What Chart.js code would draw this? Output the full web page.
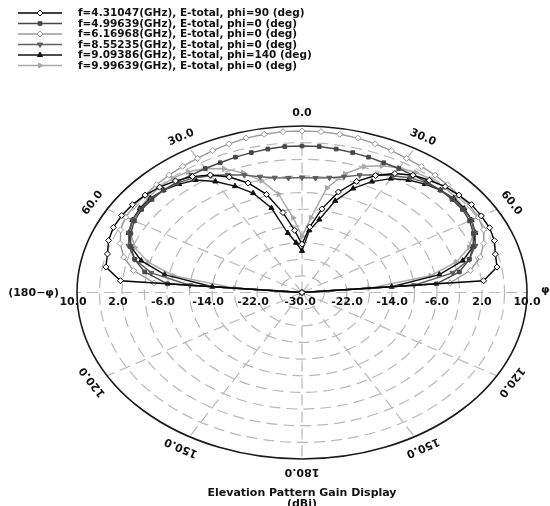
<!DOCTYPE html>
<html><head><meta charset="utf-8">
<script src="https://cdn.jsdelivr.net/npm/chart.js@4/dist/chart.umd.min.js"></script>
<style>html,body{margin:0;padding:0;background:#fff}#wrap{width:550px;height:506px}</style>
</head><body><div id="wrap"><canvas id="c" width="550" height="506"></canvas></div>
<script>
// ---- data (theta in degrees, gain in dBi) ----
const angles = [-90,-85,-80,-75,-70,-65,-60,-55,-50,-45,-40,-35,-30,-25,-20,-15,-10,-5,0,5,10,15,20,25,30,35,40,45,50,55,60,65,70,75,80,85,90];
const gain431 = [-30,2.4,5.4,5.8,6.6,7.0,7.0,6.8,6.4,5.8,5.0,4.0,2.6,0.6,-2.0,-5.6,-10.5,-15.0,-18.4,-14.2,-9.6,-5.0,-1.6,1.0,3.0,4.4,5.2,6.0,6.4,6.8,6.8,6.8,6.4,5.6,5.2,2.4,-30];
const gain499 = [-30,-6.0,-1.6,0.8,2.4,3.6,4.4,4.8,4.8,4.8,4.6,4.4,4.4,4.4,4.6,4.8,5.0,5.2,5.2,5.2,5.0,4.8,4.6,4.4,4.4,4.4,4.6,4.8,4.8,4.8,4.4,3.6,2.4,0.8,-1.6,-6.0,-30];
const gain617 = [-30,-3.6,0.4,2.8,4.4,5.6,6.2,6.4,6.4,6.6,6.8,7.0,7.2,7.6,8.0,8.4,8.6,8.8,8.8,8.8,8.6,8.4,8.0,7.6,7.2,7.0,6.8,6.6,6.4,6.4,6.2,5.6,4.4,2.8,0.4,-3.6,-30];
const gain855 = [-30,-10.0,-2.8,0.8,2.8,4.0,4.8,5.0,5.0,4.8,4.4,3.6,2.4,1.2,0.0,-1.2,-2.0,-2.4,-2.4,-2.4,-2.0,-1.2,0.0,1.2,2.4,3.6,4.4,4.8,5.0,5.0,4.8,4.0,2.8,0.8,-2.8,-10.0,-30];
const gain909 = [-30,-14.0,-5.2,-0.4,2.4,4.0,4.8,5.2,5.2,4.8,4.0,3.0,0.8,-1.8,-4.6,-9.0,-15.5,-18.0,-20.0,-15.0,-12.2,-7.2,-3.4,-0.6,1.6,3.0,4.0,4.8,5.2,5.2,4.8,4.0,2.4,-0.4,-5.2,-14.0,-30];
const gain999 = [-30,-18.0,-6.8,-1.6,1.6,3.6,4.8,5.2,5.6,5.8,5.8,5.4,4.4,2.8,0.6,-2.2,-6.0,-12.0,-16.5,-12.0,-4.5,-0.5,2.2,3.6,4.6,5.2,5.6,5.8,5.6,5.2,4.8,3.6,1.6,-1.6,-6.8,-18.0,-30];
const seriesNames = [
  'f=4.31047(GHz), E-total, phi=90 (deg)',
  'f=4.99639(GHz), E-total, phi=0 (deg)',
  'f=6.16968(GHz), E-total, phi=0 (deg)',
  'f=8.55235(GHz), E-total, phi=0 (deg)',
  'f=9.09386(GHz), E-total, phi=140 (deg)',
  'f=9.99639(GHz), E-total, phi=0 (deg)'
];
const gainMin = -30, gainMax = 10;
const ringValues = [-26,-22,-18,-14,-10,-6,-2,2,6];
const radialTickValues = [10,2,-6,-14,-22,-30];
const radialTickLabels = ['10.0','2.0','-6.0','-14.0','-22.0','-30.0'];
const spokeAngles = [0,30,60,90,120,150,180,210,240,270,300,330];
const angleTickValues = [0,30,60,120,150,180,-30,-60,-120,-150];
const angleTickLabels = ['0.0','30.0','60.0','120.0','150.0','180.0','30.0','60.0','120.0','150.0'];
const titleText = 'Elevation Pattern Gain Display';
const unitText = '(dBi)';
const leftAxisText = '(180\u2212\u03c6)';
const rightAxisText = '\u03c6';

// ---- helpers ----
function norm(g){ return (Math.max(g, gainMin) - gainMin) / (gainMax - gainMin); }
function toPoints(gains){
  return angles.map((a, i) => {
    const r = norm(gains[i]), t = a * Math.PI / 180;
    return {x: r * Math.sin(t), y: r * Math.cos(t)};
  });
}
const styles = [
  {c:'#000000', ps:'rectRot', rot:0, rad:3, bg:'#ffffff'},
  {c:'#474747', ps:'rect', rot:0, rad:2.6, bg:'#474747'},
  {c:'#9a9a9a', ps:'rectRot', rot:0, rad:3, bg:'#ffffff'},
  {c:'#5e5e5e', ps:'triangle', rot:180, rad:3, bg:'#5e5e5e'},
  {c:'#111111', ps:'triangle', rot:0, rad:3, bg:'#111111'},
  {c:'#a8a8a8', ps:'triangle', rot:90, rad:3, bg:'#a8a8a8'}
];
const allGains = [gain431, gain499, gain617, gain855, gain909, gain999];
const datasets = allGains.map((g, i) => ({
  label: seriesNames[i],
  data: toPoints(g),
  showLine: true,
  borderColor: styles[i].c,
  borderWidth: 1.4,
  pointStyle: styles[i].ps,
  pointRotation: styles[i].rot,
  pointRadius: styles[i].rad,
  pointBorderWidth: 1,
  pointBorderColor: styles[i].c,
  pointBackgroundColor: styles[i].bg,
  tension: 0,
  clip: false
}));

const FONT = 'bold 11px "DejaVu Sans", Arial, sans-serif';

const polarGrid = {
  id: 'polarGrid',
  beforeDatasetsDraw(chart){
    const ctx = chart.ctx, xs = chart.scales.x, ys = chart.scales.y;
    const cx = xs.getPixelForValue(0), cy = ys.getPixelForValue(0);
    const rx = xs.getPixelForValue(1) - cx, ry = cy - ys.getPixelForValue(1);
    ctx.save();
    ctx.strokeStyle = '#b8b8b8'; ctx.lineWidth = 1.2; ctx.setLineDash([11,6]);
    ringValues.forEach(g => {
      const r = norm(g);
      ctx.beginPath(); ctx.ellipse(cx, cy, rx*r, ry*r, 0, 0, Math.PI*2); ctx.stroke();
    });
    spokeAngles.forEach(a => {
      const t = a*Math.PI/180;
      ctx.beginPath(); ctx.moveTo(cx, cy);
      ctx.lineTo(cx + rx*Math.sin(t), cy - ry*Math.cos(t)); ctx.stroke();
    });
    ctx.setLineDash([]);
    ctx.strokeStyle = '#1a1a1a'; ctx.lineWidth = 1.6;
    ctx.beginPath(); ctx.ellipse(cx, cy, rx, ry, 0, 0, Math.PI*2); ctx.stroke();
    ctx.restore();
  },
  afterDraw(chart){
    const ctx = chart.ctx, xs = chart.scales.x, ys = chart.scales.y;
    const cx = xs.getPixelForValue(0), cy = ys.getPixelForValue(0);
    const rx = xs.getPixelForValue(1) - cx, ry = cy - ys.getPixelForValue(1);
    ctx.save();
    ctx.fillStyle = '#111'; ctx.font = FONT;
    ctx.textAlign = 'center'; ctx.textBaseline = 'middle';
    // angle labels
    angleTickValues.forEach((a, i) => {
      const t = a*Math.PI/180, k = 1.075;
      const px = cx + k*rx*Math.sin(t), py = cy - k*ry*Math.cos(t);
      const rot = Math.atan2(ry*Math.sin(t), rx*Math.cos(t));
      ctx.save(); ctx.translate(px, py); ctx.rotate(rot);
      ctx.fillText(angleTickLabels[i], 0, 0); ctx.restore();
    });
    // radial tick labels along the horizontal axis
    const ly = cy + 10;
    radialTickValues.forEach((v, i) => {
      const r = norm(v);
      ctx.fillText(radialTickLabels[i], cx - rx*r - (r > 0 ? 4 : 2), ly);
      if (r > 0) ctx.fillText(radialTickLabels[i], cx + rx*r, ly);
    });
    ctx.textAlign = 'right';
    ctx.fillText(leftAxisText, cx - rx - 18, cy + 1);
    ctx.textAlign = 'left';
    ctx.fillText(rightAxisText, cx + rx + 14, cy - 2);
    // title
    ctx.textAlign = 'center';
    ctx.fillText(titleText, cx, cy + ry + 34);
    ctx.fillText(unitText, cx, cy + ry + 45);
    // legend
    ctx.textAlign = 'left';
    ctx.font = 'bold 10.5px "DejaVu Sans", Arial, sans-serif';
    chart.data.datasets.forEach((ds, i) => {
      const y = 13 + i*10.5;
      ctx.strokeStyle = ds.borderColor; ctx.lineWidth = 1.4;
      ctx.beginPath(); ctx.moveTo(18, y); ctx.lineTo(62, y); ctx.stroke();
      ctx.fillStyle = ds.pointBackgroundColor; ctx.strokeStyle = ds.pointBorderColor; ctx.lineWidth = 1;
      Chart.helpers.drawPoint(ctx, {pointStyle: ds.pointStyle, rotation: ds.pointRotation, radius: ds.pointRadius, borderWidth: 1}, 40, y);
      ctx.fillStyle = '#111';
      ctx.fillText(ds.label, 78, y + 0.5);
    });
    ctx.restore();
  }
};

new Chart(document.getElementById('c'), {
  type: 'scatter',
  data: {datasets},
  options: {
    responsive: false, animation: false, devicePixelRatio: 1,
    layout: {padding: {left: 77, right: 23, top: 126, bottom: 47}},
    scales: {
      x: {type: 'linear', min: -1, max: 1, display: false},
      y: {type: 'linear', min: -1, max: 1, display: false}
    },
    plugins: {legend: {display: false}, tooltip: {enabled: false}}
  },
  plugins: [polarGrid]
});
</script></body></html>
